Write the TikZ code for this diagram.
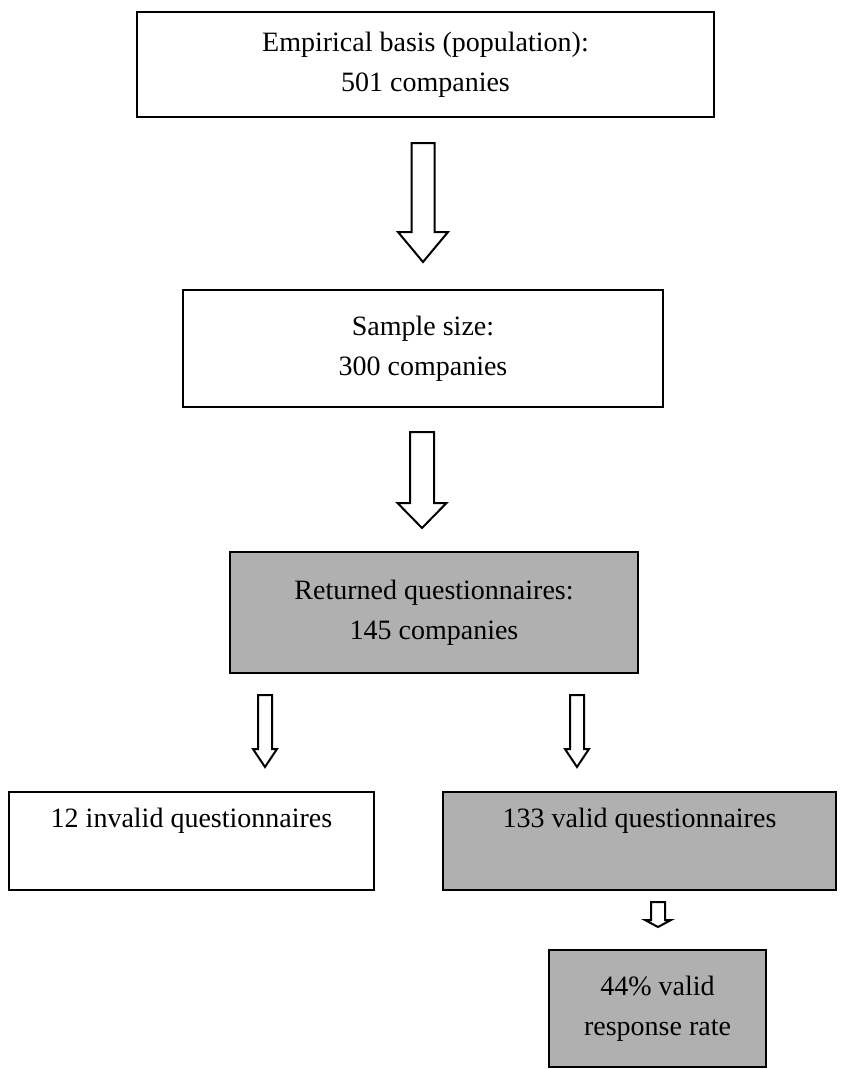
\documentclass[tikz,border=0pt]{standalone}
\usepackage{fontspec}
\setmainfont{Liberation Serif}
\usetikzlibrary{calc}

\tikzset{
  stage/.style={draw=black, line width=2.4pt, align=center, inner sep=0pt,
    font=\fontsize{28}{40}\selectfont},
  shaded/.style={fill=black!31},
  caption/.style={inner sep=0pt, font=\fontsize{28}{40}\selectfont},
  blockarrow/.style={draw=black, line width=2pt, fill=white, line join=miter},
}

% hollow downward block arrow: #1 = centre x, #2 = top y, #3 = y of the head's base,
% #4 = tip y, #5 = half shaft width, #6 = half head width
\newcommand\downblock[6]{%
  \draw[blockarrow] (#1-#5,#2) -- (#1+#5,#2) -- (#1+#5,#3) -- (#1+#6,#3)
    -- (#1,#4) -- (#1-#6,#3) -- (#1-#5,#3) -- cycle;}

\begin{document}
\begin{tikzpicture}[x=1pt, y=-1pt]
  \path[use as bounding box] (0,0) rectangle (844,1069);

  % stages of the survey
  \node[stage, minimum width=577, minimum height=105] (pop) at (425.5,64.5)
    {Empirical basis (population):\\501 companies};
  \node[stage, minimum width=480, minimum height=117] (sample) at (423,348.5)
    {Sample size:\\300 companies};
  \node[stage, shaded, minimum width=408, minimum height=121] (returned) at (434,612.5)
    {Returned questionnaires:\\145 companies};

  \node[stage, minimum width=365, minimum height=98] (invalid) at (191.5,841) {};
  \node[caption] at ($(invalid.north)+(0,30)$) {12 invalid questionnaires};

  \node[stage, shaded, minimum width=393, minimum height=98] (valid) at (639.5,841) {};
  \node[caption] at ($(valid.north)+(0,30)$) {133 valid questionnaires};

  \node[stage, shaded, minimum width=217, minimum height=117] (rate) at (657.5,1008.5)
    {44\% valid\\response rate};

  % block arrows between the stages
  \downblock{423}{143}{232}{262}{11.5}{25}
  \downblock{422}{432}{503}{528}{12}{24.5}
  \downblock{265}{695}{749}{767}{7}{12}
  \downblock{577}{695}{749}{767}{7}{12}
  \downblock{658}{902}{920}{927}{7}{13}
\end{tikzpicture}
\end{document}
